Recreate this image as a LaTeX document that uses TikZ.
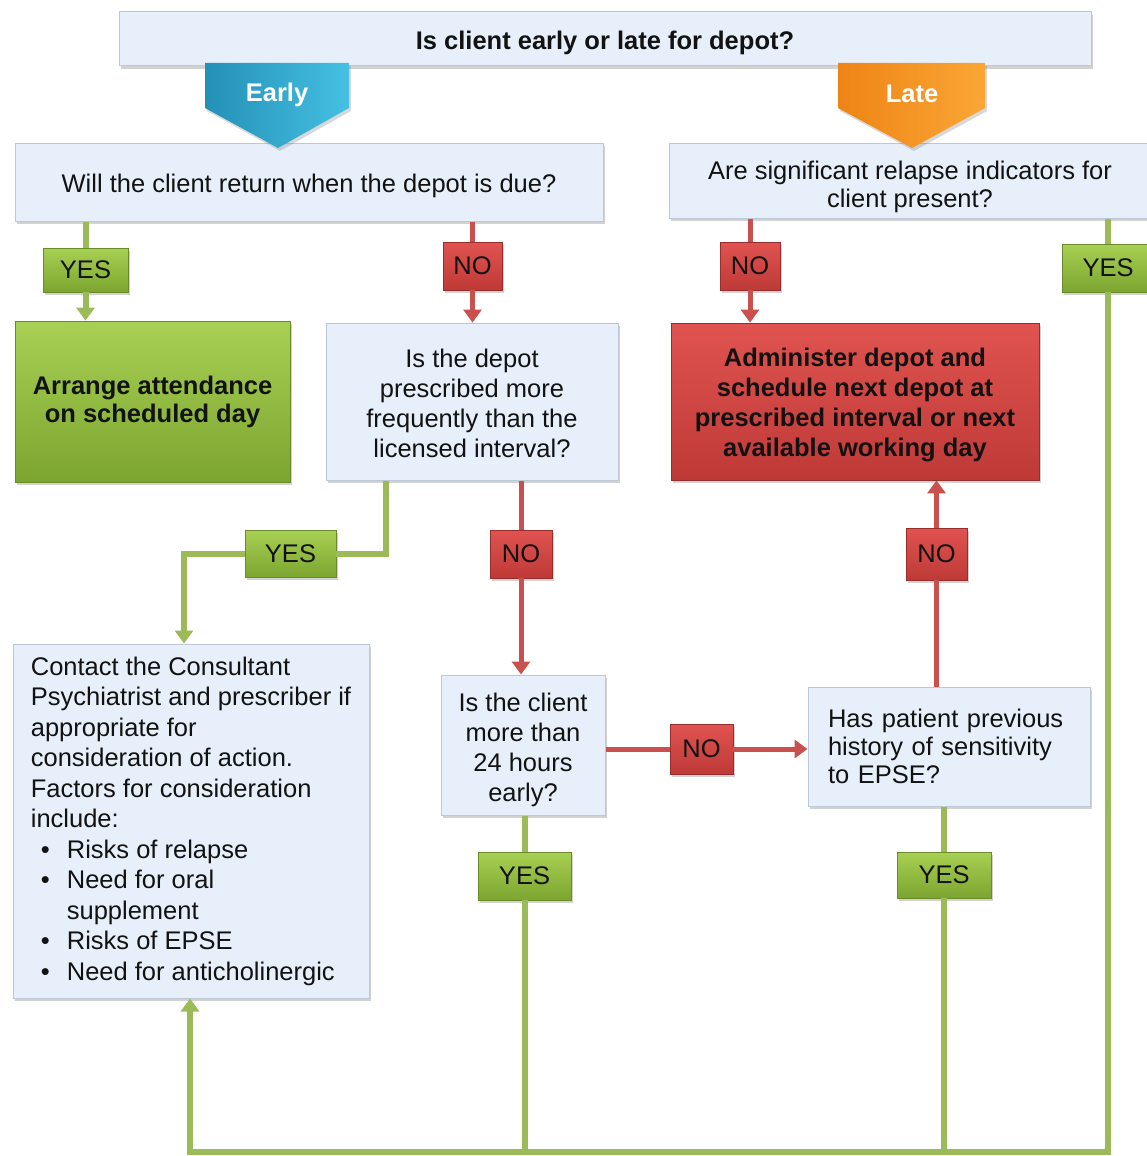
\documentclass[tikz,border=0pt]{standalone}
\usepackage{fontspec}
\setmainfont{Liberation Sans}
\usetikzlibrary{arrows.meta,shadows,calc}
\definecolor{boxfill}{HTML}{E7F0FA}
\definecolor{boxdraw}{HTML}{BCC8D6}
\definecolor{gline}{HTML}{9BBB59}
\definecolor{rline}{HTML}{C9504D}
\definecolor{gtop}{HTML}{A8D054}
\definecolor{gbot}{HTML}{7CA530}
\definecolor{rtop}{HTML}{E05350}
\definecolor{rbot}{HTML}{BE3A37}
\definecolor{txt}{HTML}{121212}
\definecolor{eL}{HTML}{2490B6}
\definecolor{eR}{HTML}{45C0E2}
\definecolor{lL}{HTML}{EE8416}
\definecolor{lR}{HTML}{FAA635}
% pushes a node's text down by #1 pt (adds height to the first line)
\newcommand\pushdn[1]{\rule{0pt}{\dimexpr 19pt + #1pt + #1pt\relax}}
\tikzset{
  base/.style={font=\fontsize{25.5}{29}\selectfont, text=txt, inner sep=0pt,
    drop shadow={shadow xshift=2pt,shadow yshift=-3pt,opacity=0.35}},
  qbox/.style={base, rectangle, fill=boxfill, draw=boxdraw, line width=1pt, align=center},
  gbox/.style={base, rectangle, top color=gtop, bottom color=gbot, draw=gbot!85!black, line width=0.8pt, align=center},
  rbox/.style={base, rectangle, top color=rtop, bottom color=rbot, draw=rbot!80!black, line width=0.8pt, align=center},
  gcon/.style={draw=gline, line width=6pt},
  rcon/.style={draw=rline, line width=5pt},
  tip/.style={-{Triangle[width=18pt,length=13pt]}},
  chev/.style={drop shadow={shadow xshift=2pt,shadow yshift=-3pt,opacity=0.3}},
  chevtext/.style={font=\bfseries\fontsize{25.5}{29}\selectfont, text=white, inner sep=0pt},
}
\begin{document}
\begin{tikzpicture}[x=1pt,y=-1pt]
\fill[white] (0,0) rectangle (1147,1156);
\useasboundingbox (0,0) rectangle (1147,1156);

% main question boxes
\node[qbox, minimum width=972pt, minimum height=54pt, font=\bfseries\fontsize{25.5}{29}\selectfont] (top) at (605,39) {\pushdn{4}Is client early or late for depot?};
\node[qbox, minimum width=588pt, minimum height=78pt] (will) at (309,182) {\pushdn{4}Will the client return when the depot is due?};
\node[qbox, minimum width=482pt, minimum height=75pt, font=\fontsize{25.5}{28}\selectfont] (rel) at (910,180.5) {\pushdn{6}Are significant relapse indicators for\\client present?};

% chevrons
\shade[chev, left color=eL, right color=eR] (205,63) -- (349,63) -- (349,108) -- (278,148) -- (205,108) -- cycle;
\node[chevtext] (early) at (277,95) {Early};
\shade[chev, left color=lL, right color=lR] (838,63) -- (985,63) -- (985,108) -- (912,148) -- (838,108) -- cycle;
\node[chevtext] (late) at (912,94) {Late};

% outcome / question boxes
\node[gbox, minimum width=275pt, minimum height=161pt, font=\bfseries\fontsize{25.5}{28}\selectfont] (arr) at (152.5,401.5) {Arrange attendance\\on scheduled day};
\node[qbox, minimum width=292pt, minimum height=157pt, font=\fontsize{25.5}{30}\selectfont] (depot) at (472,401.5) {\pushdn{2}Is the depot\\prescribed more\\frequently than the\\licensed interval?};
\node[rbox, minimum width=368pt, minimum height=157pt, font=\bfseries\fontsize{25.5}{30}\selectfont] (admin) at (855,401.5) {\pushdn{3}Administer depot and\\schedule next depot at\\prescribed interval or next\\available working day};
\node[qbox, minimum width=356pt, minimum height=354pt, align=left, font=\fontsize{25.5}{30.5}\selectfont] (contact) at (191,821) {Contact the Consultant\\
Psychiatrist and prescriber if\\
appropriate for\\
consideration of action.\\
Factors for consideration\\
include:\\
\hspace*{10pt}\makebox[26pt][l]{\textbullet}Risks of relapse\\
\hspace*{10pt}\makebox[26pt][l]{\textbullet}Need for oral\\
\hspace*{36pt}supplement\\
\hspace*{10pt}\makebox[26pt][l]{\textbullet}Risks of EPSE\\
\hspace*{10pt}\makebox[26pt][l]{\textbullet}Need for anticholinergic};
\node[qbox, minimum width=164pt, minimum height=140pt, font=\fontsize{25.5}{30}\selectfont] (h24) at (523,745) {\pushdn{5}Is the client\\more than\\24 hours\\early?};
\node[qbox, minimum width=282pt, minimum height=119pt, text width=242pt, align=left, font=\fontsize{25.5}{28}\selectfont] (hist) at (949,746.5) {Has patient previous\\history of sensitivity\\to EPSE?};

% YES / NO labels
\node[gbox, minimum width=85pt, minimum height=44pt] (yes1) at (85.5,270) {YES};
\node[rbox, minimum width=59pt, minimum height=48pt] (no1) at (472.5,266) {NO};
\node[rbox, minimum width=60pt, minimum height=48pt] (no2) at (750,266) {NO};
\node[gbox, minimum width=92pt, minimum height=48pt] (yes2) at (1108,268) {YES};
\node[gbox, minimum width=91pt, minimum height=47pt] (yes3) at (290.5,553.5) {YES};
\node[rbox, minimum width=62pt, minimum height=48pt] (no3) at (521,554) {NO};
\node[rbox, minimum width=63pt, minimum height=50pt] (no4) at (701.5,749) {NO};
\node[rbox, minimum width=61pt, minimum height=52pt] (no5) at (936.5,554) {NO};
\node[gbox, minimum width=93pt, minimum height=48pt] (yes4) at (524.5,876) {YES};
\node[gbox, minimum width=94pt, minimum height=46pt] (yes5) at (944,875) {YES};

% helper coordinates
\coordinate (bl) at (190,1152);
\coordinate (c1) at (386,553.5);
\coordinate (c2) at (184,553.5);

% connectors
\draw[gcon] (will.south -| yes1) -- (yes1.north);
\draw[gcon,tip] (yes1.south) -- (arr.north -| yes1);
\draw[rcon] (will.south -| no1) -- (no1.north);
\draw[rcon,tip] (no1.south) -- (depot.north -| no1);
\draw[rcon] (rel.south -| no2) -- (no2.north);
\draw[rcon,tip] (no2.south) -- (admin.north -| no2);
\draw[gcon] (rel.south -| yes2) -- (yes2.north);
\draw[gcon,tip] (yes2.south) -- (yes2.south |- bl) -- (bl) -- (contact.south -| bl);
\draw[gcon] (depot.south -| c1) -- (c1) -- (yes3.east);
\draw[gcon,tip] (yes3.west) -- (c2) -- (contact.north -| c2);
\draw[rcon] (depot.south -| no3) -- (no3.north);
\draw[rcon,tip] (no3.south) -- (h24.north -| no3);
\draw[rcon] (h24.east |- no4) -- (no4.west);
\draw[rcon,tip] (no4.east) -- (hist.west |- no4);
\draw[rcon] (hist.north -| no5) -- (no5.south);
\draw[rcon,tip] (no5.north) -- (admin.south -| no5);
\draw[gcon] (h24.south -| yes4) -- (yes4.north);
\draw[gcon] (yes4.south) -- (yes4.south |- bl);
\draw[gcon] (hist.south -| yes5) -- (yes5.north);
\draw[gcon] (yes5.south) -- (yes5.south |- bl);
\end{tikzpicture}
\end{document}
